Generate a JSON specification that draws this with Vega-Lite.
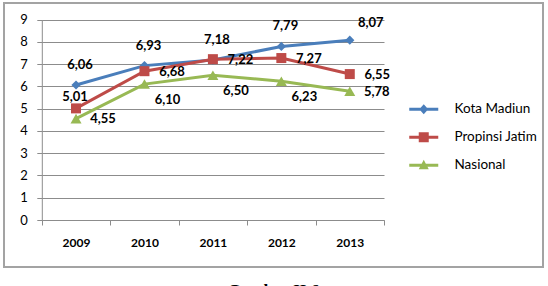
{
  "$schema": "https://vega.github.io/schema/vega-lite/v6.json",
  "width": 539,
  "height": 264,
  "autosize": "none",
  "padding": {"left": 4, "top": 3, "right": 5, "bottom": 19},
  "background": "white",
  "config": {
    "font": "Lato",
    "view": {"stroke": "#a3a3a3", "strokeWidth": 2},
    "locale": {"number": {"decimal": ",", "thousands": ".", "grouping": [3], "currency": ["", ""]}}
  },
  "title": {"text": "Gambar II.6", "orient": "bottom", "anchor": "middle", "frame": "group", "font": "Liberation Serif", "fontSize": 17, "fontWeight": "bold", "color": "black", "offset": 16, "baseline": "top"},
  "data": {"values": [
    {"year": "2009", "series": "Kota Madiun", "value": 6.06},
    {"year": "2010", "series": "Kota Madiun", "value": 6.93},
    {"year": "2011", "series": "Kota Madiun", "value": 7.18},
    {"year": "2012", "series": "Kota Madiun", "value": 7.79},
    {"year": "2013", "series": "Kota Madiun", "value": 8.07},
    {"year": "2009", "series": "Propinsi Jatim", "value": 5.01},
    {"year": "2010", "series": "Propinsi Jatim", "value": 6.68},
    {"year": "2011", "series": "Propinsi Jatim", "value": 7.22},
    {"year": "2012", "series": "Propinsi Jatim", "value": 7.27},
    {"year": "2013", "series": "Propinsi Jatim", "value": 6.55},
    {"year": "2009", "series": "Nasional", "value": 4.55},
    {"year": "2010", "series": "Nasional", "value": 6.10},
    {"year": "2011", "series": "Nasional", "value": 6.50},
    {"year": "2012", "series": "Nasional", "value": 6.23},
    {"year": "2013", "series": "Nasional", "value": 5.78}
  ]},
  "encoding": {
    "x": {"field": "year", "type": "ordinal",
      "scale": {"type": "band", "range": [37.8, 380], "paddingInner": 0, "paddingOuter": 0},
      "axis": {"title": null, "offset": -47, "tickBand": "extent", "labelAngle": 0, "labelFontWeight": "bold", "labelFontSize": 12, "labelColor": "black", "labelPadding": 12, "tickSize": 5, "domainColor": "#8c8c8c", "tickColor": "#8c8c8c", "grid": false}},
    "y": {"field": "value", "type": "quantitative",
      "scale": {"domain": [0, 9], "range": [217, 16.5], "nice": false},
      "axis": {"title": null, "offset": -37.8, "values": [0,1,2,3,4,5,6,7,8,9], "tickSize": 5, "labelPadding": 9.5, "labelFontSize": 13, "labelColor": "black", "grid": true, "gridColor": "#8c8c8c", "domainColor": "#8c8c8c", "tickColor": "#8c8c8c"}}
  },
  "layer": [
    {"transform": [{"filter": "datum.series == 'Kota Madiun'"}],
     "mark": {"type": "line", "strokeWidth": 3, "color": "#4a7ebb"}, "encoding": {}},
    {"transform": [{"filter": "datum.series == 'Propinsi Jatim'"}],
     "mark": {"type": "line", "strokeWidth": 3, "color": "#be4b48"}, "encoding": {}},
    {"transform": [{"filter": "datum.series == 'Nasional'"}],
     "mark": {"type": "line", "strokeWidth": 3, "color": "#98b954"}, "encoding": {}},
    {"transform": [{"filter": "datum.series == 'Kota Madiun'"}],
     "mark": {"type": "point", "filled": true, "opacity": 1, "shape": "diamond", "size": 85, "color": "#4a7ebb"}},
    {"transform": [{"filter": "datum.series == 'Propinsi Jatim'"}],
     "mark": {"type": "point", "filled": true, "opacity": 1, "shape": "square", "size": 100, "color": "#be4b48"}},
    {"transform": [{"filter": "datum.series == 'Nasional'"}],
     "mark": {"type": "point", "filled": true, "opacity": 1, "shape": "triangle-up", "size": 121, "color": "#98b954"}},
    {"mark": {"type": "point", "filled": true, "opacity": 0, "size": 100},
     "encoding": {
       "color": {"field": "series", "type": "nominal", "scale": {"domain": ["Kota Madiun", "Propinsi Jatim", "Nasional"], "range": ["#4a7ebb", "#be4b48", "#98b954"]},
         "legend": {"title": null, "orient": "none", "legendX": 413, "legendY": 99.5, "labelFont": "Lato", "labelFontSize": 13.5, "labelColor": "black", "labelOffset": 24, "rowPadding": 13, "symbolOpacity": 1, "symbolStrokeWidth": 0}},
       "shape": {"field": "series", "type": "nominal", "scale": {"domain": ["Kota Madiun", "Propinsi Jatim", "Nasional"], "range": ["M-2.9,-0.3H2.9V0.3H-2.9ZM0,-1L0.9,0L0,1L-0.9,0Z", "M-2.9,-0.3H2.9V0.3H-2.9ZM-1,-1H1V1H-1Z", "M-2.9,-0.3H2.9V0.3H-2.9ZM0,-1.1L1,0.8H-1Z"]},
         "legend": {"title": null, "orient": "none", "legendX": 413, "legendY": 99.5, "labelFont": "Lato", "labelFontSize": 13.5, "labelColor": "black", "labelOffset": 24, "rowPadding": 13, "symbolOpacity": 1, "symbolStrokeWidth": 0}}
     }},
    {"transform": [{"filter": "datum.series == 'Kota Madiun' && datum.year != '2013'"}],
     "mark": {"type": "text", "fontWeight": "bold", "fontSize": 13, "color": "black", "dx": 4, "dy": -20},
     "encoding": {"text": {"field": "value", "type": "quantitative", "format": ".2f"}}},
    {"transform": [{"filter": "datum.series == 'Kota Madiun' && datum.year == '2013'"}],
     "mark": {"type": "text", "fontWeight": "bold", "fontSize": 13, "color": "black", "dx": 21, "dy": -17},
     "encoding": {"text": {"field": "value", "type": "quantitative", "format": ".2f"}}},
    {"transform": [{"filter": "datum.series == 'Propinsi Jatim' && datum.year != '2009'"}],
     "mark": {"type": "text", "fontWeight": "bold", "fontSize": 13, "color": "black", "dx": 27.5, "dy": 0.5},
     "encoding": {"text": {"field": "value", "type": "quantitative", "format": ".2f"}}},
    {"transform": [{"filter": "datum.series == 'Propinsi Jatim' && datum.year == '2009'"}],
     "mark": {"type": "text", "fontWeight": "bold", "fontSize": 13, "color": "black", "dx": -1, "dy": -11},
     "encoding": {"text": {"field": "value", "type": "quantitative", "format": ".2f"}}},
    {"transform": [{"filter": "datum.series == 'Nasional' && datum.year != '2009' && datum.year != '2013'"}],
     "mark": {"type": "text", "fontWeight": "bold", "fontSize": 13, "color": "black", "dx": 23, "dy": 16},
     "encoding": {"text": {"field": "value", "type": "quantitative", "format": ".2f"}}},
    {"transform": [{"filter": "datum.series == 'Nasional' && (datum.year == '2009' || datum.year == '2013')"}],
     "mark": {"type": "text", "fontWeight": "bold", "fontSize": 13, "color": "black", "dx": 27, "dy": 0.5},
     "encoding": {"text": {"field": "value", "type": "quantitative", "format": ".2f"}}}
  ]
}
